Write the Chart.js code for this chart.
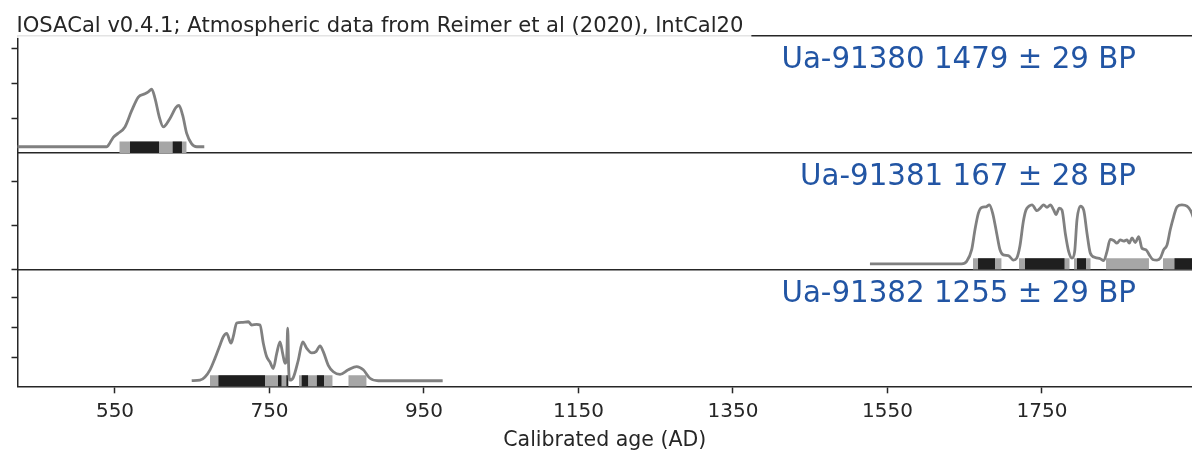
<!DOCTYPE html>
<html>
<head>
<meta charset="utf-8">
<script src="https://cdn.jsdelivr.net/npm/chart.js@4.4.1/dist/chart.umd.min.js"></script>
<style>
  body { margin: 0; background: #fff; }
  #wrap { position: relative; width: 1192px; height: 450px; }
  #wrap canvas { position: absolute; left: 0; top: 0; }
</style>
</head>
<body>
<div id="wrap">
  <canvas id="p1" width="1192" height="450"></canvas>
  <canvas id="p2" width="1192" height="450"></canvas>
  <canvas id="p3" width="1192" height="450"></canvas>
</div>
<script>
// ---- data (density normalised so each peak ~ 1) ----
const plotTitle = 'IOSACal v0.4.1; Atmospheric data from Reimer et al (2020), IntCal20';
const xAxisTitle = 'Calibrated age (AD)';
const xTicks = [550, 750, 950, 1150, 1350, 1550, 1750];
const sampleLabels = ['Ua-91380 1479 ± 29 BP', 'Ua-91381 167 ± 28 BP', 'Ua-91382 1255 ± 29 BP'];

// Ua-91380
const years1 = [420, 539.3, 541.3, 547.8, 553.9, 562.9, 571.6, 580.2, 588.8, 593.1, 597.5, 601.8,
  607.4, 612.5, 621.2, 629.0, 632.8, 637.6, 642.8, 649.3, 655.8, 665.6];
const density1 = [0.095, 0.095, 0.115, 0.24, 0.30, 0.40, 0.65, 0.86, 0.91, 0.94, 0.98, 0.84,
  0.55, 0.40, 0.53, 0.70, 0.73, 0.58, 0.30, 0.14, 0.095, 0.095];
const range95_1 = [[555.6, 642.8]];
const range68_1 = [[569.4, 607.0], [624.4, 636.7]];

// Ua-91381
const years2 = [1527.3, 1646.1, 1652.5, 1659.0, 1663.3, 1667.6, 1671.9, 1677.5, 1681.8, 1686.2, 1691.4,
  1695.6, 1699.9, 1706.4, 1712.9, 1717.3, 1721.5, 1725.8, 1729.3, 1733.2, 1737.1, 1743.5, 1747.8,
  1752.2, 1756.5, 1760.8, 1765.2, 1768.1, 1772.4, 1775.9, 1780.2, 1784.6, 1788.8, 1792.3, 1795.3,
  1799.6, 1804.0, 1808.3, 1812.5, 1819.0, 1825.5, 1829.9, 1834.1, 1838.4, 1842.8, 1847.1, 1851.4,
  1855.8, 1860.0, 1863.0, 1866.5, 1870.8, 1875.2, 1879.5, 1884.6, 1888.9, 1893.3, 1898.9, 1903.2,
  1907.6, 1911.8, 1916.1, 1920.5, 1924.8, 1931.2, 1937.7, 1942.0, 1946, 1950, 1954, 1958, 1962];
const density2 = [0.092, 0.092, 0.13, 0.31, 0.62, 0.87, 0.96, 0.97, 1.0, 0.87, 0.56,
  0.31, 0.23, 0.22, 0.15, 0.18, 0.37, 0.74, 0.92, 0.98, 1.0, 0.91, 0.95,
  1.0, 0.96, 1.0, 0.92, 0.85, 0.95, 0.92, 0.56, 0.28, 0.18, 0.28, 0.77,
  0.98, 0.92, 0.56, 0.26, 0.19, 0.17, 0.14, 0.28, 0.47, 0.45, 0.41, 0.46,
  0.44, 0.46, 0.41, 0.49, 0.42, 0.51, 0.33, 0.31, 0.23, 0.16, 0.15, 0.18,
  0.31, 0.38, 0.62, 0.82, 0.97, 1.0, 0.98, 0.92, 0.80, 0.55, 0.25, 0.12, 0.092];
const range95_2 = [[1660.7, 1697.8], [1720.2, 1785.9], [1791.4, 1813.1], [1832.9, 1888.5], [1906.6, 1960]];
const range68_2 = [[1667.2, 1689.2], [1728.0, 1779.4], [1795.3, 1807.0], [1921.3, 1960]];

// Ua-91382
const years3 = [649.3, 660.0, 666.5, 673.0, 679.5, 685.9, 690.2, 694.6, 700.2, 703.1, 707.5, 714.0,
  722.6, 727.0, 733.4, 737.7, 742.0, 746.4, 750.6, 754.9, 759.3, 763.6, 767.1, 770.1, 772.3, 773.6,
  774.9, 776.5, 780.8, 787.3, 793.0, 798.2, 804.6, 810.2, 815.4, 819.6, 826.1, 832.6, 841.3, 852.0,
  862.9, 871.4, 880.1, 890.8, 974.2];
const density3 = [0.092, 0.10, 0.15, 0.26, 0.44, 0.64, 0.77, 0.82, 0.67, 0.77, 0.98, 0.99,
  1.0, 0.95, 0.96, 0.95, 0.67, 0.46, 0.38, 0.28, 0.51, 0.69, 0.51, 0.36, 0.46, 0.90,
  0.26, 0.10, 0.14, 0.41, 0.69, 0.59, 0.52, 0.54, 0.63, 0.54, 0.33, 0.23, 0.19, 0.26,
  0.31, 0.26, 0.13, 0.092, 0.092];
const range95_3 = [[673.0, 774.6], [788.2, 831.8], [852.0, 875.8]];
const range68_3 = [[683.7, 744.2], [761.0, 765.8], [771.7, 774.6], [791.4, 800.2], [811.1, 820.6]];

// unlabeled density ticks of each panel
const yTicks1 = [0.536, 1.072, 1.608];
const yTicks2 = [0, 0.678, 1.356];
const yTicks3 = [0.456, 0.912, 1.368];

// ---- styling ----
const X_MIN = 423.8, X_MAX = 1944.2, Y_MAX = 1.8, BAR_TOP = 0.177;
const INK = '#262626';
const LW = 1.5;
Chart.defaults.font.family = '"DejaVu Sans", sans-serif';
Chart.defaults.color = INK;

// title (with its half transparent white box) and sample label
const panelText = {
  id: 'panelText',
  afterDraw(chart, args, opts) {
    const ctx = chart.ctx, area = chart.chartArea;
    ctx.save();
    if (opts.title) {
      ctx.font = '21.1px "DejaVu Sans"';
      const w = ctx.measureText(opts.title).width;
      ctx.fillStyle = 'rgba(255,255,255,0.88)';
      ctx.fillRect(8, 6, 16.5 + w, area.top + 2 - 6);
      ctx.fillStyle = INK;
      ctx.textBaseline = 'alphabetic';
      ctx.fillText(opts.title, 16.5, 32.3);
    }
    ctx.font = '29.3px "DejaVu Sans"';
    ctx.fillStyle = '#2255a4';
    ctx.textAlign = 'right';
    ctx.textBaseline = 'alphabetic';
    ctx.fillText(opts.label, 1136, area.top + 32.3);
    ctx.restore();
  }
};

function rangeSets(ranges, color, order) {
  return ranges.map(([a, b]) => ({
    data: [{x: a, y: BAR_TOP}, {x: b, y: BAR_TOP}],
    borderWidth: 0,
    borderColor: 'rgba(0,0,0,0)',
    backgroundColor: color,
    fill: 'origin',
    pointRadius: 0,
    order: order
  }));
}

function makePanel(id, years, density, r95, r68, yTicks, label, top, bottom, isFirst, isLast) {
  const datasets = [{
    data: years.map((x, i) => ({x: x, y: density[i]})),
    borderColor: '#808080',
    borderWidth: 2.8,
    pointRadius: 0,
    cubicInterpolationMode: 'monotone',
    fill: false,
    order: 0
  }].concat(rangeSets(r95, '#a6a6a6', 2), rangeSets(r68, '#1f1f1f', 1));

  const scales = {
    x: {
      type: 'linear', min: X_MIN, max: X_MAX,
      afterBuildTicks: s => { s.ticks = xTicks.map(v => ({value: v})); },
      ticks: { display: isLast, font: { size: 20 }, padding: 6, color: INK, callback: v => String(v) },
      grid: { display: isLast, drawOnChartArea: false, tickLength: 6.6, tickWidth: LW, tickColor: INK },
      border: { display: true, color: INK, width: LW },
      title: { display: isLast, text: xAxisTitle, font: { size: 20.5 }, color: INK, padding: { top: 0, bottom: -2.5 } },
      afterFit: s => { s.height = isLast ? 450 - bottom : 0; }
    },
    y: {
      min: 0, max: Y_MAX,
      afterBuildTicks: s => { s.ticks = yTicks.map(v => ({value: v})); },
      ticks: { display: false },
      grid: { drawOnChartArea: false, tickLength: 6, tickWidth: LW, tickColor: INK },
      border: { display: true, color: INK, width: LW },
      afterFit: s => { s.width = 17.5; }
    }
  };
  if (isFirst) {
    scales.xTop = {
      type: 'linear', position: 'top', min: X_MIN, max: X_MAX,
      ticks: { display: false },
      grid: { display: false },
      border: { display: true, color: INK, width: LW },
      afterFit: s => { s.height = 0; }
    };
  }

  return new Chart(document.getElementById(id), {
    type: 'line',
    data: { datasets: datasets },
    options: {
      responsive: false,
      animation: false,
      devicePixelRatio: 1,
      layout: { padding: { top: top, bottom: isLast ? 0 : 450 - bottom, left: 0, right: 0 } },
      scales: scales,
      plugins: {
        legend: { display: false },
        tooltip: { enabled: false },
        panelText: { label: label, title: isFirst ? plotTitle : null }
      }
    },
    plugins: [panelText]
  });
}

makePanel('p1', years1, density1, range95_1, range68_1, yTicks1, sampleLabels[0], 36, 152.9, true, false);
makePanel('p2', years2, density2, range95_2, range68_2, yTicks2, sampleLabels[1], 152.9, 269.8, false, false);
makePanel('p3', years3, density3, range95_3, range68_3, yTicks3, sampleLabels[2], 269.8, 386.7, false, true);
</script>
</body>
</html>
